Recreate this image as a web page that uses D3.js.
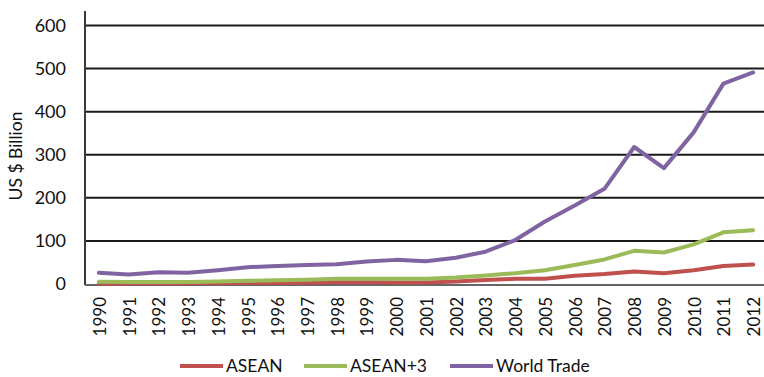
<!DOCTYPE html>
<html>
<head>
<meta charset="utf-8">
<script src="https://cdn.jsdelivr.net/npm/d3@7"></script>
<style>
  html, body { margin: 0; padding: 0; background: #fff; }
  svg { display: block; font-family: Lato, "Open Sans", sans-serif; }
</style>
</head>
<body>
<svg id="chart" width="764" height="377"></svg>
<script>
// Trade values, US $ billion, 1990–2012
const years = ["1990","1991","1992","1993","1994","1995","1996","1997","1998","1999","2000",
               "2001","2002","2003","2004","2005","2006","2007","2008","2009","2010","2011","2012"];
const asean = [1, 1, 1, 1.5, 2, 2.5, 2.5, 3, 4, 4, 3.5, 3.5, 6, 9, 12, 12, 19, 23, 29, 25, 32, 42, 45];
const aseanPlus3 = [5, 4.5, 4.5, 4.5, 6, 7.5, 8.5, 10, 12, 12, 12, 12, 15, 20, 25, 32, 44, 57, 77, 73, 92, 120, 125];
const worldTrade = [26, 22, 27, 26, 32, 39, 42, 44, 46, 52, 56, 53, 61, 75, 102, 145, 182, 221, 318, 269, 352, 465, 491];
const yTicks = [0, 100, 200, 300, 400, 500, 600];

const series = [
  { name: "ASEAN", values: asean, color: "#C0504D" },
  { name: "ASEAN+3", values: aseanPlus3, color: "#9BBB59" },
  { name: "World Trade", values: worldTrade, color: "#8064A2" }
];

const svg = d3.select("#chart");
const plot = { left: 85, right: 768, top: 25.5, bottom: 284 };

const x = d3.scaleBand().domain(years).range([84, 768]);
const y = d3.scaleLinear().domain([0, 600]).range([plot.bottom, plot.top]);

// horizontal gridlines
svg.append("g")
  .selectAll("line")
  .data(yTicks.filter(d => d > 0))
  .join("line")
  .attr("x1", plot.left).attr("x2", plot.right)
  .attr("y1", d => y(d)).attr("y2", d => y(d))
  .attr("stroke", "#1a1a1a").attr("stroke-width", 2);

// y axis
const yAxis = svg.append("g")
  .attr("transform", `translate(${plot.left},0)`)
  .call(d3.axisLeft(y).tickValues(yTicks).tickSize(0).tickPadding(19));
yAxis.select(".domain").attr("stroke", "#3a3a3a").attr("stroke-width", 2)
  .attr("d", `M0,11V${plot.bottom + 1}`);
yAxis.selectAll("text").attr("font-size", 18).attr("fill", "#111")
  .attr("font-family", "Lato, sans-serif");

// x axis
const xAxis = svg.append("g")
  .attr("transform", `translate(0,${plot.bottom + 1})`)
  .call(d3.axisBottom(x).tickSize(0));
xAxis.select(".domain").attr("stroke", "#666").attr("stroke-width", 2)
  .attr("d", `M${plot.left},0H${plot.right}`);
xAxis.selectAll("text")
  .attr("font-size", 17).attr("fill", "#111")
  .attr("font-family", "Lato, sans-serif")
  .attr("transform", "rotate(-90)")
  .attr("text-anchor", "end")
  .attr("x", -12).attr("y", 1).attr("dy", "0.35em");

// y axis title
svg.append("text")
  .attr("transform", `translate(22,156) rotate(-90)`)
  .attr("text-anchor", "middle")
  .attr("font-size", 17.5).attr("fill", "#111")
  .text("US $ Billion");

// lines
const line = d3.line()
  .x((d, i) => x(years[i]) + x.bandwidth() / 2)
  .y(d => y(d));

svg.append("g")
  .selectAll("path")
  .data(series)
  .join("path")
  .attr("d", s => line(s.values))
  .attr("fill", "none")
  .attr("stroke", s => s.color)
  .attr("stroke-width", 4)
  .attr("stroke-linejoin", "round")
  .attr("stroke-linecap", "round");

// legend
const legendX = [180, 304, 450];
const legend = svg.append("g").selectAll("g")
  .data(series)
  .join("g")
  .attr("transform", (d, i) => `translate(${legendX[i]},366)`);
legend.append("line")
  .attr("x1", 0).attr("x2", 43)
  .attr("stroke", d => d.color).attr("stroke-width", 4);
legend.append("text")
  .attr("x", 46).attr("dy", "0.35em")
  .attr("font-size", 17.5).attr("fill", "#111")
  .text(d => d.name);
</script>
</body>
</html>
